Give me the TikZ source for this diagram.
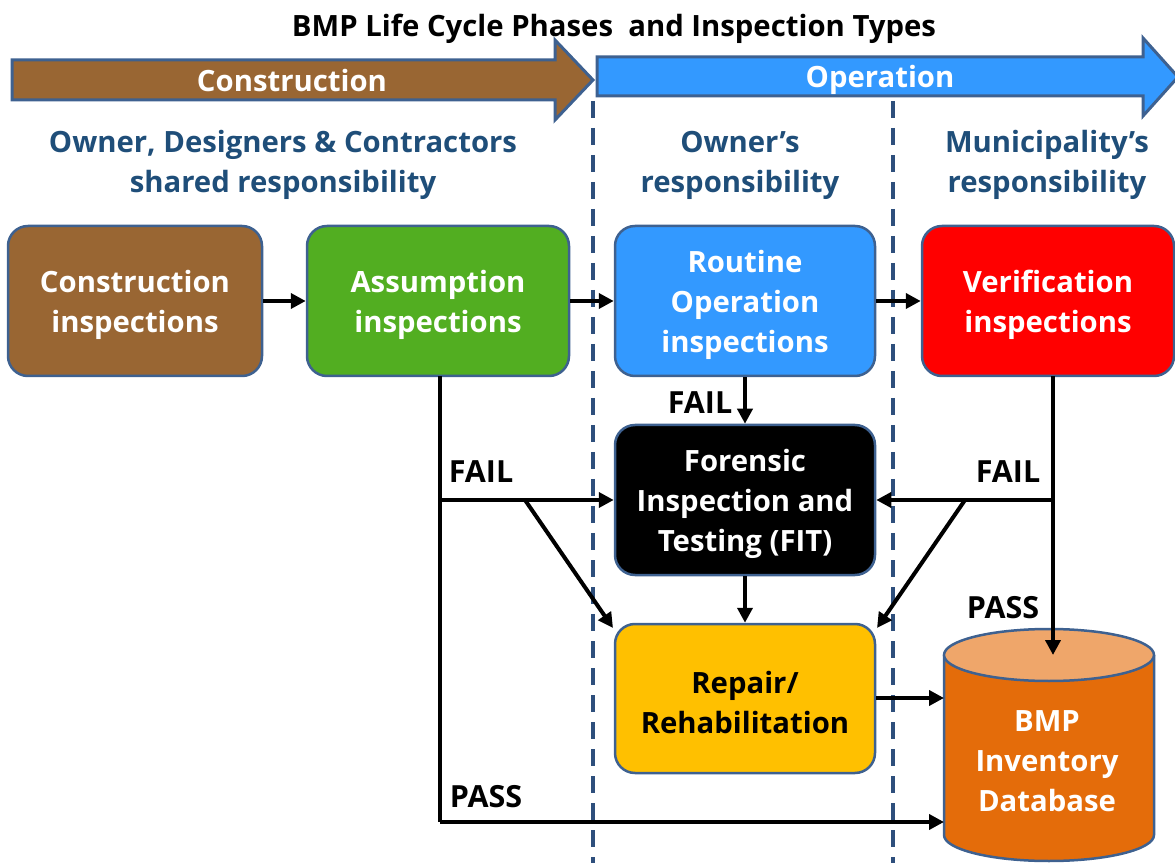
\documentclass[tikz,border=0pt]{standalone}
\usepackage{fontspec}
\setmainfont{Open Sans}[BoldFont={Open Sans Bold}]
\usetikzlibrary{arrows.meta}
\definecolor{cbrown}{HTML}{996633}
\definecolor{cgreen}{HTML}{52AE21}
\definecolor{cblue}{HTML}{3399FF}
\definecolor{cred}{HTML}{FF0000}
\definecolor{cyellow}{HTML}{FFC000}
\definecolor{corange}{HTML}{E46C0A}
\definecolor{corangetop}{HTML}{EFA66A}
\definecolor{cedge}{HTML}{3E6190}
\definecolor{chead}{HTML}{1F4E79}
\definecolor{cdash}{HTML}{2E4F7C}
\tikzset{
  box/.style={draw=cedge, line width=2.5pt, rounded corners=20pt, inner sep=0pt},
  boxtext/.style={text=white, font=\bfseries\fontsize{29.3}{40}\selectfont, align=center, inner sep=0pt, yshift=-4pt},
  conn/.style={line width=4pt, -{Triangle[length=15pt,width=15pt]}},
  seg/.style={line width=4pt},
  lbl/.style={font=\bfseries\fontsize{30.5}{32}\selectfont, text=black, inner sep=0pt},
  head/.style={font=\bfseries\fontsize{29.3}{40}\selectfont, text=chead, align=center, inner sep=0pt},
  phase/.style={draw=cedge, line width=3pt},
  phasetext/.style={font=\bfseries\fontsize{29.3}{32}\selectfont, text=white, inner sep=0pt},
  divider/.style={draw=cdash, line width=4pt, dash pattern=on 17pt off 10pt},
}
\begin{document}
\begin{tikzpicture}[x=1pt,y=1pt]
\useasboundingbox (0,0) rectangle (1175,863);
% title
\node[font=\bfseries\fontsize{29.3}{32}\selectfont, inner sep=0pt] (title) at (614,834) {BMP Life Cycle Phases\ \ and Inspection Types};
% phase arrows
\draw[phase, fill=cbrown] (12,803) -- (555,803) -- (555,823) -- (593,783) -- (555,743) -- (555,763) -- (12,763) -- cycle;
\node[phasetext] (constr) at (292,782) {Construction};
\draw[phase, fill=cblue] (597,806) -- (1143,806) -- (1143,825) -- (1178,786) -- (1143,747) -- (1143,767) -- (597,767) -- cycle;
\node[phasetext] (oper) at (880,783) {Operation};
% dividers
\coordinate (d1t) at (593,762); \coordinate (d1b) at (593,0);
\coordinate (d2t) at (893,762); \coordinate (d2b) at (893,0);
\draw[divider] (d1t) -- (d1b);
\draw[divider] (d2t) -- (d2b);
% headers
\node[head] (h1) at (283,698) {Owner, Designers \& Contractors\\shared responsibility};
\node[head] (h2) at (740,698) {Owner’s\\responsibility};
\node[head] (h3) at (1047,698) {Municipality’s\\responsibility};
% boxes
\node[box, fill=cbrown, minimum width=254pt, minimum height=150pt, label={[boxtext]center:Construction\\inspections}] (ci) at (135,562) {};
\node[box, fill=cgreen, minimum width=262pt, minimum height=150pt, label={[boxtext]center:Assumption\\inspections}] (ai) at (438,562) {};
\node[box, fill=cblue, minimum width=260pt, minimum height=150pt, label={[boxtext]center:Routine\\Operation\\inspections}] (ri) at (745,562) {};
\node[box, fill=cred, minimum width=252pt, minimum height=150pt, label={[boxtext]center:Verification\\inspections}] (vi) at (1048,562) {};
\node[box, fill=black, minimum width=260pt, minimum height=150pt, label={[boxtext]center:Forensic\\Inspection and\\Testing (FIT)}] (fit) at (745,363) {};
\node[box, fill=cyellow, minimum width=260pt, minimum height=149pt, label={[boxtext, text=black]center:Repair/\\Rehabilitation}] (rep) at (745,164.5) {};
% cylinder
\fill[corange] (944,208) -- (944,28) arc[start angle=180, end angle=360, x radius=105, y radius=26] -- (1154,208) -- cycle;
\draw[cedge, line width=2.5pt] (944,208) -- (944,28) arc[start angle=180, end angle=360, x radius=105, y radius=26] -- (1154,208);
\draw[cedge, line width=2.5pt, fill=corangetop] (1049,208) ellipse[x radius=105, y radius=26];
\node[font=\bfseries\fontsize{29.3}{40}\selectfont, text=white, align=center, inner sep=0pt] (db) at (1047,102) {BMP\\Inventory\\Database};
\coordinate (dbtop) at (1053,208);
\coordinate (dbl1) at (944,165);
\coordinate (dbl2) at (944,41);
% connectors
\draw[conn] (ci.east) -- (ai.west);
\draw[conn] (ai.east) -- (ri.west);
\draw[conn] (ri.east) -- (vi.west);
\draw[conn] (ri.south) -- (fit.north);
\draw[conn] (fit.south) -- (rep.north);
\draw[conn] (rep.east |- dbl1) -- (dbl1);
% left branch
\coordinate (aib) at (440,487);
\coordinate (lj) at (440,363);
\coordinate (lc) at (440,41);
\coordinate (ld) at (525,363);
\coordinate (repnw) at (613,235);
\draw[seg] (aib) -- (lc);
\draw[conn] (lc) -- (dbl2);
\draw[conn] (lj) -- (fit.west);
\draw[conn] (ld) -- (repnw);
% right branch
\coordinate (vib) at (1053,487);
\coordinate (rj) at (1053,363);
\coordinate (rd) at (965,363);
\coordinate (repne) at (877,235);
\draw[conn] (vib) -- (dbtop);
\draw[conn] (rj) -- (fit.east);
\draw[conn] (rd) -- (repne);
% labels
\node[lbl] (f1) at (700,460) {FAIL};
\node[lbl] (f2) at (481,391) {FAIL};
\node[lbl] (f3) at (1008,391) {FAIL};
\node[lbl] (p1) at (1003,255) {PASS};
\node[lbl] (p2) at (486,66) {PASS};
\end{tikzpicture}
\end{document}
